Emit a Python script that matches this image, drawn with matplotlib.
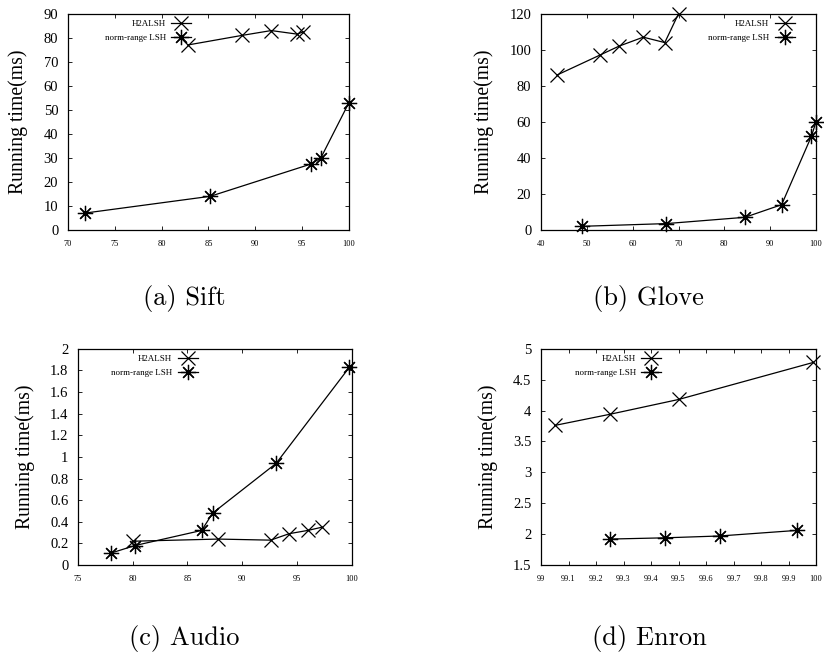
import matplotlib
matplotlib.use('Agg')
import matplotlib.pyplot as plt

# Sift
sift_h2_x = [82.8, 88.6, 91.7, 94.5, 95.1]
sift_h2_y = [77, 81, 83, 81.5, 82.5]
sift_nr_x = [71.8, 85.2, 96.0, 97.0, 100.0]
sift_nr_y = [7, 14, 27.5, 30, 53]

# Glove
glove_h2_x = [43.5, 52.8, 57.0, 62.3, 67.0, 70.0]
glove_h2_y = [86, 97, 102, 107, 104, 120]
glove_nr_x = [49.0, 67.3, 84.5, 92.5, 99.0, 100.0]
glove_nr_y = [2, 3.5, 7, 14, 52, 60]

# Audio
audio_h2_x = [80.0, 87.8, 92.6, 94.3, 96.0, 97.3]
audio_h2_y = [0.22, 0.24, 0.23, 0.29, 0.32, 0.35]
audio_nr_x = [78.0, 80.2, 86.3, 87.3, 93.1, 99.8]
audio_nr_y = [0.11, 0.18, 0.32, 0.48, 0.94, 1.83]

# Enron
enron_h2_x = [99.05, 99.25, 99.5, 99.99]
enron_h2_y = [3.76, 3.94, 4.18, 4.78]
enron_nr_x = [99.25, 99.45, 99.65, 99.93]
enron_nr_y = [1.92, 1.94, 1.97, 2.06]

serif = 'Liberation Serif'
asterisk = (8, 2, 0)

fig = plt.figure(figsize=(8.24, 6.55), dpi=100)

panels = [
    # position, h2 data, nr data, xlim, xticks, ylim, yticks, legend anchor, caption, caption pos
    ([0.0825, 0.649, 0.341, 0.330], (sift_h2_x, sift_h2_y), (sift_nr_x, sift_nr_y),
     (70, 100), [70, 75, 80, 85, 90, 95, 100], (0, 90), [0, 10, 20, 30, 40, 50, 60, 70, 80, 90],
     (0.46, 1.0), '(a) Sift', (184, 298)),
    ([0.6566, 0.649, 0.3337, 0.330], (glove_h2_x, glove_h2_y), (glove_nr_x, glove_nr_y),
     (40, 100), [40, 50, 60, 70, 80, 90, 100], (0, 120), [0, 20, 40, 60, 80, 100, 120],
     (0.945, 1.0), '(b) Glove', (648, 298)),
    ([0.0947, 0.1374, 0.332, 0.330], (audio_h2_x, audio_h2_y), (audio_nr_x, audio_nr_y),
     (75, 100), [75, 80, 85, 90, 95, 100], (0, 2),
     [0, 0.2, 0.4, 0.6, 0.8, 1, 1.2, 1.4, 1.6, 1.8, 2],
     (0.46, 1.0), '(c) Audio', (184, 638)),
    ([0.6566, 0.1374, 0.3337, 0.330], (enron_h2_x, enron_h2_y), (enron_nr_x, enron_nr_y),
     (99, 100), [99, 99.1, 99.2, 99.3, 99.4, 99.5, 99.6, 99.7, 99.8, 99.9, 100],
     (1.5, 5), [1.5, 2, 2.5, 3, 3.5, 4, 4.5, 5],
     (0.46, 1.0), '(d) Enron', (649, 638)),
]

for pos, h2, nr, xlim, xticks, ylim, yticks, anchor, caption, cpos in panels:
    ax = fig.add_axes(pos)
    ax.plot(h2[0], h2[1], color='black', lw=0.9, marker='x', markersize=10,
            markeredgewidth=0.9, label='H2ALSH', clip_on=False)
    ax.plot(nr[0], nr[1], color='black', lw=0.9, marker=asterisk, markersize=11,
            markeredgewidth=0.9, label='norm-range LSH', clip_on=False)
    ax.set_xlim(*xlim)
    ax.set_ylim(*ylim)
    ax.set_xticks(xticks)
    ax.set_xticklabels([f'{v:g}' for v in xticks], fontfamily=serif, fontsize=6)
    ax.set_yticks(yticks)
    ax.set_yticklabels([f'{v:g}' for v in yticks], fontfamily=serif, fontsize=10.5)
    ax.tick_params(direction='in', top=True, right=True, length=3, width=0.6)
    ax.tick_params(axis='x', pad=7)
    ax.tick_params(axis='y', pad=7)
    for s in ax.spines.values():
        s.set_linewidth(0.9)
    ax.set_ylabel('Running time(ms)', fontfamily=serif, fontsize=14.2, labelpad=11)
    ax.legend(loc='upper right', bbox_to_anchor=anchor, frameon=False, markerfirst=False,
              prop={'family': serif, 'size': 6.5}, handlelength=2.2, handletextpad=0.6,
              labelspacing=0.6, borderaxespad=0.3)
    fig.text(cpos[0] / 824, 1 - cpos[1] / 655, caption, fontfamily='cmr10', fontsize=19,
             ha='center', va='center')

fig.savefig('out.png', dpi=100)
